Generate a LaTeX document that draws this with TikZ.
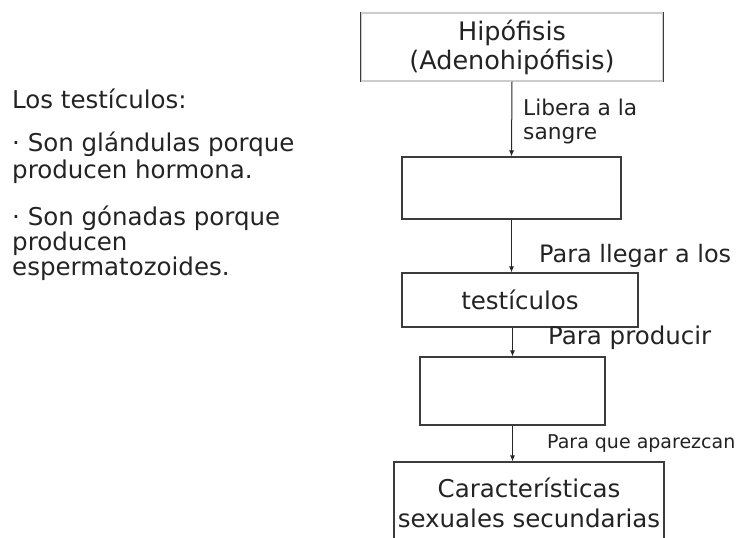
\documentclass[tikz,border=0pt]{standalone}
\usepackage{fontspec}
\setmainfont{DejaVu Sans}
\usepackage{tikz}
\usetikzlibrary{positioning,calc,arrows.meta}
\definecolor{lineagris}{RGB}{60,60,60}
\definecolor{textogris}{RGB}{35,35,35}

\begin{document}
\begin{tikzpicture}[
		x=1pt, y=-1pt,
		caja/.style={draw=lineagris, line width=1.1pt, inner sep=0pt, align=center, text=textogris},
		flecha/.style={draw=black!85, line width=1pt, -{Latex[length=6pt,width=5pt]}},
		txt/.style={inner sep=0pt, text=textogris, align=left},
		grande/.style={font=\fontsize{24.5}{26}\selectfont},
		]
		\useasboundingbox (0,0) rectangle (737,538);
		\clip (0,0) rectangle (737,538);
		
		% ===== texto de la izquierda =====
		\node[txt, grande, anchor=base west] (titulo) at (12,108) {Los testículos:};
		\node[txt, font=\fontsize{24.5}{27}\selectfont, anchor=west] (item1) at (12,158) {· Son glándulas porque\\producen hormona.};
		\node[txt, font=\fontsize{24.5}{25}\selectfont, anchor=west] (item2) at (12,243) {· Son gónadas porque\\producen\\espermatozoides.};
		
		% ===== cajas del esquema =====
		\node[caja, draw=gray!40, minimum width=302pt, minimum height=68pt, font=\fontsize{25.5}{29}\selectfont] (hipo) at (512,47) {Hipófisis\\(Adenohipófisis)};
		\draw[lineagris, line width=1.1pt] (hipo.north west) -- (hipo.south west);
		\draw[lineagris, line width=1.1pt] (hipo.north east) -- (hipo.south east);
		
		\node[caja, minimum width=219pt, minimum height=62pt] (vacio1) at (511.5,188) {};
		\node[caja, grande, minimum width=236pt, minimum height=54pt] (testi) at (520,300) {testículos};
		\node[caja, minimum width=185pt, minimum height=68pt] (vacio2) at (512.5,391) {};
		\node[caja, minimum width=270pt, minimum height=82pt, font=\fontsize{24.5}{30}\selectfont] (carac) at (529,503) {Características\\sexuales secundarias};
		
		% ===== flechas =====
		\draw[flecha] (hipo.south) -- (vacio1.north);
		\draw[flecha] (vacio1.south) -- (vacio1.south |- testi.north);
		\draw[flecha] (vacio2.north |- testi.south) -- (vacio2.north);
		\draw[flecha] (vacio2.south) -- (vacio2.south |- carac.north);
		
		% ===== etiquetas de las flechas =====
		\node[txt, font=\fontsize{21.7}{24}\selectfont, anchor=west] (libera) at ($(hipo.south)+(11,40)$) {Libera a la\\sangre};
		\node[txt, font=\fontsize{24}{26}\selectfont, anchor=base west] (llegar) at ($(vacio1.south)+(27.5,43)$) {Para llegar a los};
		\node[txt, grande, anchor=base west] (producir) at ($(testi.south)+(28,17)$) {Para producir};
		\node[txt, font=\fontsize{19}{21}\selectfont, anchor=base west] (aparezcan) at ($(vacio2.south)+(34.5,23)$) {Para que aparezcan};
		
	\end{tikzpicture}
\end{document}
